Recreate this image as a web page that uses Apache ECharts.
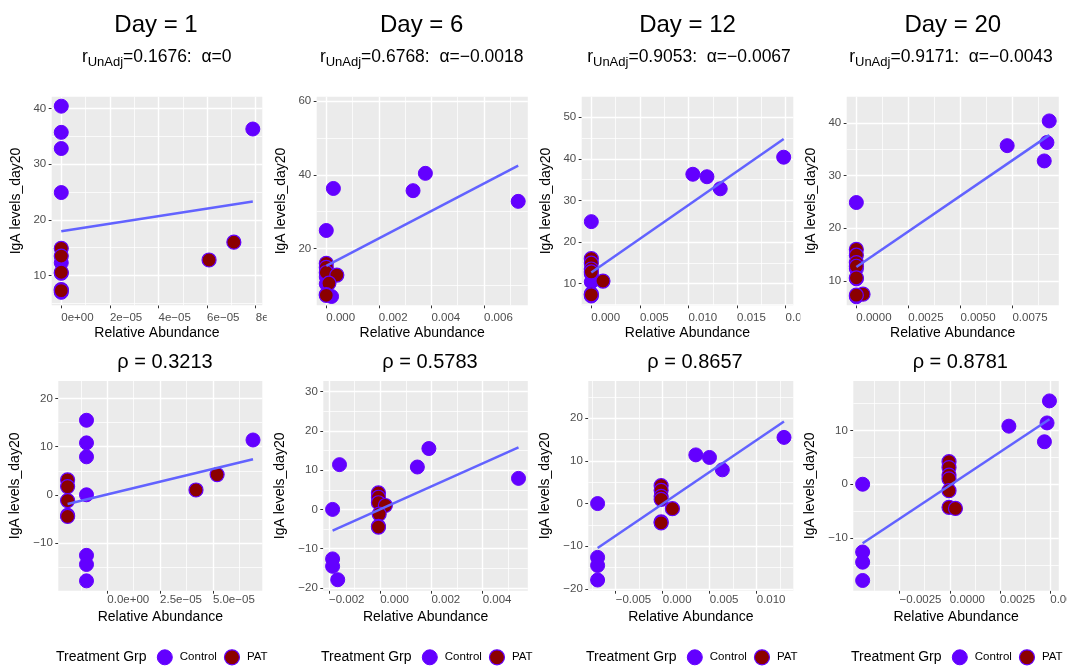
<!DOCTYPE html>
<html>
<head>
<meta charset="utf-8">
<script src="https://cdn.jsdelivr.net/npm/echarts@6/dist/echarts.min.js"></script>
<style>
  html, body { margin: 0; padding: 0; background: #ffffff; }
  #chart { width: 1067px; height: 666px; }
</style>
</head>
<body>
<div id="chart"></div>
<script>
// ---- Raw abundance vs IgA (top row), one block per sampling day ----
const day1Control = [[0, 40.4], [0, 35.7], [0, 32.8], [0, 24.9], [0, 12.3], [0, 10.4], [0, 7.0], [7.88e-5, 36.3]];
const day1Pat = [[0, 14.9], [0, 13.5], [0, 10.6], [0, 7.5], [0, 7.3], [6.08e-5, 12.8], [7.1e-5, 16.0]];
const day1Fit = [[0, 17.96], [7.88e-5, 23.3]];

const day6Control = [[0.00027, 36.3], [0, 24.9], [0.0033, 35.7], [0.00377, 40.4], [0.0073, 32.8], [0, 12.3], [0, 10.4], [0.0002, 7.0]];
const day6Pat = [[0, 16.0], [0, 14.9], [0, 13.5], [0.0004, 12.8], [0.0001, 10.6], [0, 7.5], [0, 7.3]];
const day6Fit = [[0, 15.3], [0.0073, 42.5]];

const day12Control = [[0, 24.9], [0.01045, 36.3], [0.0119, 35.7], [0.01327, 32.8], [0.0198, 40.4], [0, 12.3], [0, 10.4], [0, 7.0]];
const day12Pat = [[0, 16.0], [0, 14.9], [0, 13.5], [0, 12.8], [0.0012, 10.6], [0, 7.5], [0, 7.3]];
const day12Fit = [[0, 12.65], [0.0198, 44.8]];

const day20Control = [[0, 24.9], [0.00725, 35.7], [0.00927, 40.4], [0.00916, 36.3], [0.00903, 32.8], [0, 12.3], [0, 10.4], [0, 7.0]];
const day20Pat = [[0, 16.0], [0, 14.9], [0, 13.5], [0, 12.8], [0, 10.6], [0.00032, 7.5], [0, 7.3]];
const day20Fit = [[0, 12.66], [0.00927, 37.7]];

// ---- Within-group centred values (bottom row) ----
const adj1Control = [[-0.985e-5, 15.5], [-0.985e-5, 10.8], [-0.985e-5, 7.9], [-0.985e-5, 0], [-0.985e-5, -12.6], [-0.985e-5, -14.5], [-0.985e-5, -17.9], [6.9e-5, 11.4]];
const adj1Pat = [[-1.88e-5, 3.1], [-1.88e-5, 1.7], [-1.88e-5, -1.2], [-1.88e-5, -4.3], [-1.88e-5, -4.5], [4.2e-5, 1.0], [5.2e-5, 4.2]];
const adj1Fit = [[-1.88e-5, -1.93], [6.9e-5, 7.4]];

const adj6Control = [[-0.00159, 11.4], [-0.00186, 0], [0.00145, 10.8], [0.0019, 15.5], [0.0054, 7.9], [-0.00186, -12.6], [-0.00186, -14.5], [-0.00166, -17.9]];
const adj6Pat = [[-0.00007, 4.2], [-0.00007, 3.1], [-0.00007, 1.7], [0.0002, 1.0], [-0.00004, -1.2], [-0.00007, -4.3], [-0.00007, -4.5]];
const adj6Fit = [[-0.00186, -5.4], [0.0054, 15.8]];

const adj12Control = [[-0.00693, 0], [-0.00693, -12.6], [-0.00693, -14.5], [-0.00693, -17.9], [0.00352, 11.4], [0.00497, 10.8], [0.00634, 7.9], [0.0129, 15.5]];
const adj12Pat = [[-0.00017, 4.2], [-0.00017, 3.1], [-0.00017, 1.7], [-0.00017, 1.0], [0.00103, -1.2], [-0.00017, -4.3], [-0.00017, -4.5]];
const adj12Fit = [[-0.00693, -10.4], [0.0129, 19.2]];

const adj20Control = [[-0.00434, 0], [-0.00434, -12.6], [-0.00434, -14.5], [-0.00434, -17.9], [0.00294, 10.8], [0.00496, 15.5], [0.00484, 11.4], [0.00471, 7.9]];
const adj20Pat = [[-0.00004, 4.2], [-0.00004, 3.1], [-0.00004, 1.7], [-0.00004, 1.0], [-0.00004, -1.2], [-0.00004, -4.3], [0.00028, -4.5]];
const adj20Fit = [[-0.00434, -10.97], [0.00496, 12.1]];

// ---- Tick breaks and labels ----
const day1XBreaks = [0, 2e-5, 4e-5, 6e-5, 8e-5];
const day1XLabels = ['0e+00', '2e\u221205', '4e\u221205', '6e\u221205', '8e\u221205'];
const day1YBreaks = [10, 20, 30, 40];
const day6XBreaks = [0, 0.002, 0.004, 0.006];
const day6XLabels = ['0.000', '0.002', '0.004', '0.006'];
const day6YBreaks = [20, 40, 60];
const day12XBreaks = [0, 0.005, 0.01, 0.015, 0.02];
const day12XLabels = ['0.000', '0.005', '0.010', '0.015', '0.020'];
const day12YBreaks = [10, 20, 30, 40, 50];
const day20XBreaks = [0, 0.0025, 0.005, 0.0075];
const day20XLabels = ['0.0000', '0.0025', '0.0050', '0.0075'];
const day20YBreaks = [10, 20, 30, 40];

const adj1XBreaks = [0, 2.5e-5, 5e-5];
const adj1XLabels = ['0.0e+00', '2.5e\u221205', '5.0e\u221205'];
const adj1YBreaks = [-10, 0, 10, 20];
const adj6XBreaks = [-0.002, 0, 0.002, 0.004];
const adj6XLabels = ['\u22120.002', '0.000', '0.002', '0.004'];
const adj6YBreaks = [-20, -10, 0, 10, 20, 30];
const adj12XBreaks = [-0.005, 0, 0.005, 0.01];
const adj12XLabels = ['\u22120.005', '0.000', '0.005', '0.010'];
const adj12YBreaks = [-20, -10, 0, 10, 20];
const adj20XBreaks = [-0.0025, 0, 0.0025, 0.005];
const adj20XLabels = ['\u22120.0025', '0.0000', '0.0025', '0.0050'];
const adj20YBreaks = [-10, 0, 10];

// ---- Panel headings ----
const dayTitles = ['Day = 1', 'Day = 6', 'Day = 12', 'Day = 20'];
const rUnadj = ['0.1676', '0.6768', '0.9053', '0.9171'];
const alphaVals = ['0', '\u22120.0018', '\u22120.0067', '\u22120.0043'];
const rhoVals = ['0.3213', '0.5783', '0.8657', '0.8781'];
const groupNames = ['Control', 'PAT'];

// ---- Styling ----
const FONT = '"Liberation Sans", Arial, Helvetica, sans-serif';
const CONTROL_FILL = '#6300FF';
const PAT_FILL = '#8B0000';
const POINT_EDGE = '#6300FF';
const FIT_COLOR = '#6262FF';
const PANEL_BG = '#EBEBEB';
const TICK_TEXT = '#4D4D4D';

const panels = [
  { row: 0, col: 0, control: day1Control, pat: day1Pat, fit: day1Fit, xRange: [-3.94e-6, 8.27e-5], yRange: [4.67, 42.1], xBreaks: day1XBreaks, xLabels: day1XLabels, yBreaks: day1YBreaks },
  { row: 0, col: 1, control: day6Control, pat: day6Pat, fit: day6Fit, xRange: [-0.000365, 0.007665], yRange: [4.6, 61.2], xBreaks: day6XBreaks, xLabels: day6XLabels, yBreaks: day6YBreaks },
  { row: 0, col: 2, control: day12Control, pat: day12Pat, fit: day12Fit, xRange: [-0.00099, 0.02079], yRange: [4.77, 54.96], xBreaks: day12XBreaks, xLabels: day12XLabels, yBreaks: day12YBreaks },
  { row: 0, col: 3, control: day20Control, pat: day20Pat, fit: day20Fit, xRange: [-0.000464, 0.00973], yRange: [5.38, 45.0], xBreaks: day20XBreaks, xLabels: day20XLabels, yBreaks: day20YBreaks },
  { row: 1, col: 0, control: adj1Control, pat: adj1Pat, fit: adj1Fit, xRange: [-2.32e-5, 7.34e-5], yRange: [-19.95, 23.67], xBreaks: adj1XBreaks, xLabels: adj1XLabels, yBreaks: adj1YBreaks },
  { row: 1, col: 1, control: adj6Control, pat: adj6Pat, fit: adj6Fit, xRange: [-0.002223, 0.005763], yRange: [-20.7, 32.7], xBreaks: adj6XBreaks, xLabels: adj6XLabels, yBreaks: adj6YBreaks },
  { row: 1, col: 2, control: adj12Control, pat: adj12Pat, fit: adj12Fit, xRange: [-0.00792, 0.01389], yRange: [-20.4, 28.7], xBreaks: adj12XBreaks, xLabels: adj12XLabels, yBreaks: adj12YBreaks },
  { row: 1, col: 3, control: adj20Control, pat: adj20Pat, fit: adj20Fit, xRange: [-0.004805, 0.005425], yRange: [-19.8, 19.2], xBreaks: adj20XBreaks, xLabels: adj20XLabels, yBreaks: adj20YBreaks }
];

function panelRect(row, col) {
  if (row === 0) {
    return { left: 51.7 + 265 * col, top: 96.7, width: 210.6 + 0.5 * col, height: 208.6 };
  }
  return { left: 58.3 + 265 * col, top: 381, width: 204 + 0.5 * col, height: 209.7 };
}

// gridlines half-way between major breaks, limited to the visible range
function minorBreaks(br, lo, hi) {
  const step = br[1] - br[0];
  const out = [];
  for (let i = -1; i < br.length; i++) {
    const m = br[0] + (i + 0.5) * step;
    if (m > lo && m < hi) out.push(m);
  }
  return out;
}
function inRange(br, lo, hi) { return br.filter(v => v >= lo && v <= hi); }
function labelFor(breaks, labels) {
  return function (v) {
    let k = 0, d = Infinity;
    breaks.forEach((b, i) => { const e = Math.abs(b - v); if (e < d) { d = e; k = i; } });
    return labels[k];
  };
}
function signed(v) { return (v < 0 ? '\u2212' : '') + Math.abs(v); }

const grids = [], xAxes = [], yAxes = [], series = [], graphics = [], legends = [];

panels.forEach((p, i) => {
  const r = panelRect(p.row, p.col);
  grids.push({
    left: r.left, top: r.top, width: r.width, height: r.height,
    containLabel: false, outerBoundsMode: 'none',
    show: true, backgroundColor: PANEL_BG, borderWidth: 0, z: 0
  });
  const xMaj = inRange(p.xBreaks, p.xRange[0], p.xRange[1]);
  const yMaj = inRange(p.yBreaks, p.yRange[0], p.yRange[1]);
  const xMin = minorBreaks(p.xBreaks, p.xRange[0], p.xRange[1]);
  const yMin = minorBreaks(p.yBreaks, p.yRange[0], p.yRange[1]);
  const labelMargin = p.row === 0 ? 6.5 : 3.5;

  xAxes.push({
    type: 'value', gridIndex: i, position: 'bottom', min: p.xRange[0], max: p.xRange[1],
    axisLine: { show: false, onZero: false },
    axisTick: { show: true, length: 3, lineStyle: { color: '#333333', width: 1 }, customValues: xMaj },
    axisLabel: {
      show: true, customValues: xMaj, formatter: labelFor(p.xBreaks, p.xLabels),
      align: 'left', color: TICK_TEXT, fontSize: 11.5, fontFamily: FONT, margin: labelMargin
    },
    splitLine: { show: false }
  });
  yAxes.push({
    type: 'value', gridIndex: i, position: 'left', min: p.yRange[0], max: p.yRange[1],
    axisLine: { show: false, onZero: false },
    axisTick: { show: true, length: 3, lineStyle: { color: '#333333', width: 1 }, customValues: yMaj },
    axisLabel: {
      show: true, customValues: yMaj, formatter: signed,
      color: TICK_TEXT, fontSize: 11.5, fontFamily: FONT, margin: 5.5
    },
    splitLine: { show: false }
  });

  // white panel gridlines: major at the breaks, minor half-way between
  const gridLines = []
    .concat(xMaj.map(v => ({ xAxis: v, lineStyle: { width: 1.4 } })))
    .concat(xMin.map(v => ({ xAxis: v, lineStyle: { width: 0.75 } })))
    .concat(yMaj.map(v => ({ yAxis: v, lineStyle: { width: 1.4 } })))
    .concat(yMin.map(v => ({ yAxis: v, lineStyle: { width: 0.75 } })));

  series.push({
    name: groupNames[0], type: 'scatter', xAxisIndex: i, yAxisIndex: i,
    data: p.control, symbol: 'circle', symbolSize: 14, z: 3,
    itemStyle: { color: CONTROL_FILL, borderColor: POINT_EDGE, borderWidth: 1, opacity: 1 },
    emphasis: { disabled: true },
    markLine: {
      silent: true, z: 1, animation: false, precision: 12,
      symbol: ['none', 'none'],
      label: { show: false },
      emphasis: { disabled: true },
      lineStyle: { color: '#ffffff', type: 'solid', opacity: 1 },
      data: gridLines
    }
  });
  series.push({
    name: groupNames[1], type: 'scatter', xAxisIndex: i, yAxisIndex: i,
    data: p.pat, symbol: 'circle', symbolSize: 14, z: 4,
    itemStyle: { color: PAT_FILL, borderColor: POINT_EDGE, borderWidth: 1.2, opacity: 1 },
    emphasis: { disabled: true }
  });
  series.push({
    name: 'fit', type: 'line', xAxisIndex: i, yAxisIndex: i,
    data: p.fit, showSymbol: false, symbol: 'none', z: 5, silent: true,
    lineStyle: { color: FIT_COLOR, width: 2.5 },
    emphasis: { disabled: true }
  });

  // axis titles
  const cx = r.left + r.width / 2;
  const cy = r.top + r.height / 2;
  graphics.push({
    type: 'text', x: cx, y: p.row === 0 ? 333 : 617.3, z: 50,
    style: { text: 'Relative Abundance', font: '14px ' + FONT, fill: '#000', align: 'center', verticalAlign: 'middle' }
  });
  graphics.push({
    type: 'text', x: (p.row === 0 ? 16 : 15.5) + 265 * p.col, y: cy, rotation: Math.PI / 2, z: 50,
    style: { text: 'IgA levels_day20', font: '14px ' + FONT, fill: '#000', align: 'center', verticalAlign: 'middle' }
  });
});

// column headings
const titleX = [156, 421.7, 687.5, 952.8];
const subX = [156.7, 421.7, 689, 951];
const rhoX = [165, 430, 695, 960.3];
for (let c = 0; c < 4; c++) {
  graphics.push({
    type: 'text', x: titleX[c], y: 25.5, z: 50,
    style: { text: dayTitles[c], font: '24px ' + FONT, fill: '#000', align: 'center', verticalAlign: 'middle' }
  });
  graphics.push({
    type: 'text', x: subX[c], y: 57.5, z: 50,
    style: {
      text: '{m|r}{s|UnAdj}{m|=' + rUnadj[c] + ':  \u03B1=' + alphaVals[c] + '}',
      align: 'center', verticalAlign: 'middle',
      rich: {
        m: { fontSize: 17.5, fontFamily: FONT, fill: '#000', lineHeight: 22, verticalAlign: 'middle' },
        s: { fontSize: 13, fontFamily: FONT, fill: '#000', lineHeight: 13, verticalAlign: 'bottom' }
      }
    }
  });
  graphics.push({
    type: 'text', x: rhoX[c], y: 362.3, z: 50,
    style: { text: '\u03C1 = ' + rhoVals[c], font: '20px ' + FONT, fill: '#000', align: 'center', verticalAlign: 'middle' }
  });
  graphics.push({
    type: 'text', x: 56 + 265 * c, y: 656.7, z: 50,
    style: { text: 'Treatment Grp', font: '14px ' + FONT, fill: '#000', align: 'left', verticalAlign: 'middle' }
  });
  legends.push({
    show: true, orient: 'horizontal', left: 156.8 + 265 * c, top: 649.2, padding: 0,
    itemWidth: 15, itemHeight: 15, itemGap: 7, selectedMode: false,
    data: [
      { name: groupNames[0], icon: 'circle', itemStyle: { color: CONTROL_FILL, borderColor: POINT_EDGE, borderWidth: 1 } },
      { name: groupNames[1], icon: 'circle', itemStyle: { color: PAT_FILL, borderColor: POINT_EDGE, borderWidth: 1.2 } }
    ],
    textStyle: { fontSize: 11.5, fontFamily: FONT, color: '#000', padding: [0, 0, 0, 2.5] }
  });
}

// each column is drawn in its own viewport, so labels running past it are cut off
graphics.push({ type: 'rect', z: 100, shape: { x: 266.75, y: 307, width: 55, height: 20 }, style: { fill: '#ffffff' } });
graphics.push({ type: 'rect', z: 100, shape: { x: 800.25, y: 307, width: 50, height: 20 }, style: { fill: '#ffffff' } });

const chart = echarts.init(document.getElementById('chart'), null, { renderer: 'canvas', width: 1067, height: 666 });
chart.setOption({
  animation: false,
  backgroundColor: '#ffffff',
  grid: grids,
  xAxis: xAxes,
  yAxis: yAxes,
  series: series,
  legend: legends,
  graphic: graphics
});
</script>
</body>
</html>
